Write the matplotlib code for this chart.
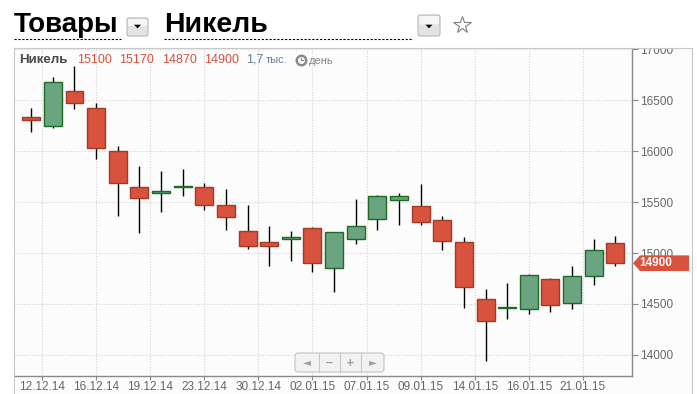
import numpy as np
import matplotlib
matplotlib.use('Agg')
import matplotlib.pyplot as plt
import matplotlib.transforms as mtransforms
from matplotlib.patches import FancyBboxPatch, Polygon, Rectangle
from matplotlib.lines import Line2D

plt.rcParams['font.family'] = ['Liberation Sans', 'DejaVu Sans']

# --> Data (daily candles, nickel)
opens  = [16330, 16250, 16585, 16420, 16005, 15645, 15585, 15648, 15645, 15475,
          15220, 15105, 15135, 15250, 14850, 15135, 15335, 15515, 15460, 15325,
          15105, 14545, 14460, 14455, 14750, 14505, 14770, 15100]
highs  = [16420, 16730, 16830, 16475, 16050, 15855, 15805, 15825, 15685, 15625,
          15470, 15260, 15215, 15255, 15210, 15525, 15570, 15590, 15680, 15365,
          15155, 14645, 14705, 14795, 14755, 14875, 15135, 15170]
lows   = [16190, 16230, 16415, 15925, 15365, 15200, 15405, 15560, 15420, 15225,
          15035, 14875, 14925, 14815, 14620, 15085, 15225, 15270, 15275, 15025,
          14465, 13945, 14355, 14405, 14420, 14450, 14685, 14870]
closes = [16300, 16680, 16470, 16025, 15690, 15535, 15605, 15652, 15470, 15350,
          15065, 15070, 15155, 14900, 15205, 15265, 15560, 15560, 15305, 15115,
          14665, 14330, 14475, 14780, 14490, 14770, 15025, 14900]

date_ticks  = [0.5, 3, 5.5, 8, 10.5, 13, 15.5, 18, 20.5, 23, 25.5]
date_labels = ['12.12.14', '16.12.14', '19.12.14', '23.12.14', '30.12.14', '02.01.15',
               '07.01.15', '09.01.15', '14.01.15', '16.01.15', '21.01.15']
price_ticks = [14000, 14500, 15000, 15500, 16000, 16500, 17000]

header_values = ['15100', '15170', '14870', '14900']
volume_text = '1,7'

# --> Colors
RED, RED_EDGE = '#d9523d', '#a33a28'
GREEN, GREEN_EDGE = '#6aa57f', '#1f6a26'
GRID = '#d2d2d2'
AXIS = '#8a8a8a'

W, H = 697, 394
fig = plt.figure(figsize=(W / 100, H / 100), dpi=100)
fig.patch.set_facecolor('white')
pxt = mtransforms.Affine2D().scale(1 / 100) + fig.dpi_scale_trans   # pixel coords, y up


def px_rect(x0, y0, x1, y1):
    return [x0 / W, 1 - y1 / H, (x1 - x0) / W, (y1 - y0) / H]


# Outer frame
fr = fig.add_axes(px_rect(14.5, 47.5, 692, 394))
fr.set_facecolor('#fcfcfc')
for s in ['left', 'top', 'right']:
    fr.spines[s].set_color('#c8c8c8')
    fr.spines[s].set_linewidth(0.8)
fr.spines['bottom'].set_visible(False)
fr.set_xticks([])
fr.set_yticks([])
fr.set_zorder(0)

# Main chart
ax = fig.add_axes(px_rect(15, 47.5, 632, 376))
ax.set_zorder(1)
ax.set_facecolor('none')
for s in ['left', 'top']:
    ax.spines[s].set_visible(False)
for s in ['right', 'bottom']:
    ax.spines[s].set_color(AXIS)
    ax.spines[s].set_linewidth(1.0)

x = np.arange(len(opens))
o = np.array(opens); c = np.array(closes)
up = c >= o
body_bot = np.minimum(o, c)
body_h = np.maximum(np.abs(c - o), 6)

ax.vlines(x, lows, highs, color='black', linewidth=1.0, zorder=2)
ax.bar(x[up], body_h[up], bottom=body_bot[up], width=0.83,
       color=GREEN, edgecolor=GREEN_EDGE, linewidth=1.0, zorder=3)
ax.bar(x[~up], body_h[~up], bottom=body_bot[~up], width=0.83,
       color=RED, edgecolor=RED_EDGE, linewidth=1.0, zorder=3)

ax.set_xlim(-0.75, 27.77)
ax.set_ylim(13794, 17015)

ax.set_xticks(date_ticks)
ax.set_xticklabels(date_labels)
ax.set_yticks(price_ticks)
ax.set_yticklabels([str(p) for p in price_ticks])
ax.yaxis.tick_right()
ax.tick_params(axis='both', direction='out', width=0.8, color=AXIS,
               labelsize=8.5, labelcolor='#666666')
ax.tick_params(axis='y', length=4, pad=2)
ax.tick_params(axis='x', length=3, pad=0.5)
ax.grid(True, color=GRID, linestyle=(0, (1, 1.5)), linewidth=0.8, zorder=0)
ax.set_axisbelow(True)

# hide the part of the top price label that sticks out above the frame
cover = Rectangle((600, H - 47.5), 97, 47.5, transform=pxt, facecolor='white',
                  edgecolor='none', zorder=2)
fig.add_artist(cover)
fig.add_artist(Line2D([600, 692], [H - 47.5, H - 47.5], transform=pxt, color='#c8c8c8',
                      linewidth=0.8, zorder=3))

# Last price label
last = closes[-1]
ytr = ax.get_yaxis_transform()
half = 77
ax.add_patch(Polygon([(1.0016, last), (1.013, last + half), (1.0924, last + half),
                      (1.0924, last - half), (1.013, last - half)], closed=True,
                     transform=ytr, facecolor=RED, edgecolor='none', clip_on=False, zorder=5))
ax.text(1.0125, last, str(last), transform=ytr, color='white', fontsize=8.5,
        fontweight='bold', ha='left', va='center', clip_on=False, zorder=6)

# Header
fig.text(14, H - 32, 'Товары', transform=pxt, fontsize=20, fontweight='bold',
         color='black', va='baseline')
fig.text(164, H - 32, 'Никель', transform=pxt, fontsize=20.5, fontweight='bold',
         color='black', va='baseline')
for x0, x1 in [(14, 121), (164, 413)]:
    fig.add_artist(Line2D([x0, x1], [H - 39, H - 39], transform=pxt, color='black',
                          linewidth=0.8, linestyle=(0, (2, 1.5))))

for bx0, by0, bx1, by1 in [(127, 18, 148, 36), (418, 15, 440, 36)]:
    fig.add_artist(FancyBboxPatch((bx0, H - by1), bx1 - bx0, by1 - by0,
                                  boxstyle='round,pad=0,rounding_size=2', transform=pxt,
                                  facecolor='#e3e3e3', edgecolor='#b8b8b8', linewidth=0.8))
    fig.add_artist(FancyBboxPatch((bx0 + 1, H - (by0 + by1) / 2 + 1), bx1 - bx0 - 2,
                                  (by1 - by0) / 2 - 2,
                                  boxstyle='round,pad=0,rounding_size=1.5', transform=pxt,
                                  facecolor='#f6f6f6', edgecolor='none'))
    cx = (bx0 + bx1) / 2
    cy = H - 26.5
    fig.add_artist(Polygon([(cx - 3.5, cy + 1.8), (cx + 3.5, cy + 1.8), (cx, cy - 1.8)],
                           closed=True, transform=pxt, facecolor='black', edgecolor='none'))

fig.add_artist(Line2D([462.3], [H - 25], transform=pxt, marker='*', markersize=13,
                      markerfacecolor='none', markeredgecolor='#808080', markeredgewidth=0.8))

# Info line
iy = H - 60
fig.text(19, iy, 'Никель', transform=pxt, fontsize=9.6, fontweight='bold', color='#4a4a4a', va='center')
for xv, v in zip([77, 119.5, 162, 204], header_values):
    fig.text(xv, iy, v, transform=pxt, fontsize=9, color='#d4503f', va='center')
fig.text(246, iy, volume_text, transform=pxt, fontsize=9, color='#6a7f9a', va='center')
fig.text(266, iy, 'тыс.', transform=pxt, fontsize=8, color='#6a7f9a', va='center')
fig.add_artist(Line2D([301], [iy], transform=pxt, marker='o', markersize=6.8,
                      markerfacecolor='white', markeredgecolor='#8a8a8a', markeredgewidth=1.8))
fig.add_artist(Line2D([301, 301, 303.2], [iy + 2.2, iy, iy], transform=pxt,
                      color='#8a8a8a', linewidth=0.9))
fig.text(309, iy - 1, 'день', transform=pxt, fontsize=8, color='#888888', va='center')

# Navigator buttons
fig.add_artist(FancyBboxPatch((295, H - 372), 89, 19, boxstyle='round,pad=0,rounding_size=3',
                              transform=pxt, facecolor='#f2f2f2', edgecolor='#c4c4c4',
                              linewidth=0.8, zorder=10))
for sx in [319, 339.5, 361]:
    fig.add_artist(Line2D([sx, sx], [H - 372, H - 353], transform=pxt, color='#c8c8c8',
                          linewidth=0.8, zorder=11))
for sx, sym in zip([307, 329.3, 350.3, 372.5], ['◄', '−', '+', '►']):
    fig.text(sx, H - 362.5, sym, transform=pxt, fontsize=7.5, color='#a0a0a0',
             ha='center', va='center', fontweight='bold', family='DejaVu Sans', zorder=12)

plt.savefig('out.png', dpi=100)
